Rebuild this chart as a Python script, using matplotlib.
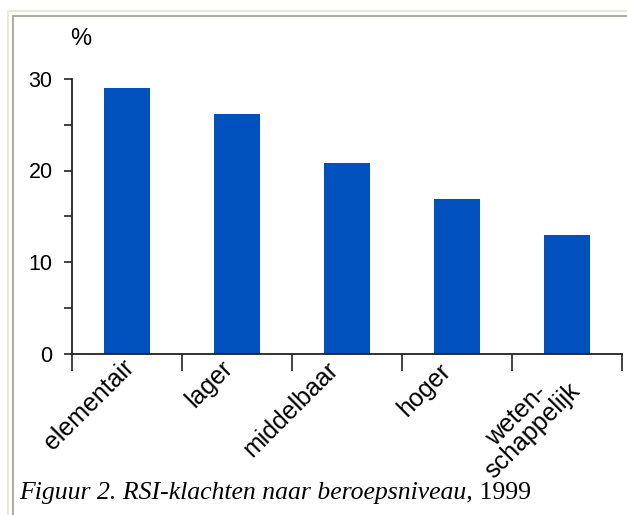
import matplotlib
matplotlib.use("Agg")
import matplotlib.pyplot as plt
import matplotlib.transforms as mtransforms
from matplotlib.patches import Rectangle

categories = ["elementair", "lager", "middelbaar", "hoger", "weten-\nschappelijk"]
values = [29.0, 26.2, 20.8, 16.9, 13.0]
y_ticks = [0, 10, 20, 30]
y_minor = [5, 15, 25]
caption = "Figuur 2. RSI-klachten naar beroepsniveau,"
caption_year = " 1999"

# where each rotated label's top-right corner sits (category units / axes units)
label_x = [0.45, 1.35, 2.31, 3.33, 4.36]
label_y = [-0.005, -0.01, -0.015, -0.02, -0.035]

W, H = 627, 515
fig = plt.figure(figsize=(W / 100, H / 100), dpi=100)
fig.patch.set_facecolor("white")

# frame lines around the figure
fig.add_artist(Rectangle((8 / W, -0.1), 1.2, 1 - 11 / H + 0.1, transform=fig.transFigure,
                         fill=False, edgecolor="#ece9d6", linewidth=1.5))
fig.add_artist(Rectangle((12.5 / W, -0.1), 1.2, 1 - 15.5 / H + 0.1, transform=fig.transFigure,
                         fill=False, edgecolor="#a09c94", linewidth=1.2))

ax = fig.add_axes([72 / W, 1 - 353.5 / H, 550 / W, 274.5 / H])
x = [i + 0.5 for i in range(len(values))]
ax.bar(x, values, width=0.41, color="#0051bd")

ax.set_xlim(0, len(values))
ax.set_ylim(0, 30)
for s in ["top", "right"]:
    ax.spines[s].set_visible(False)
for s in ["left", "bottom"]:
    ax.spines[s].set_linewidth(1.3)
    ax.spines[s].set_color("#222222")

ax.set_yticks(y_ticks)
ax.set_yticks(y_minor, minor=True)
ax.set_yticklabels([str(t) for t in y_ticks], fontsize=15.5, family="Liberation Sans")
ax.tick_params(axis="y", which="both", direction="out", length=6, width=1.2,
               color="#222222", pad=8)
ax.set_xticks(range(len(values) + 1))
ax.set_xticklabels([])
ax.tick_params(axis="x", direction="out", length=12, width=1.2, color="#222222")

tr = mtransforms.blended_transform_factory(ax.transData, ax.transAxes)
for lx, ly, lab in zip(label_x, label_y, categories):
    ax.text(lx, ly, lab, transform=tr, rotation=45, rotation_mode="anchor",
            ha="right", va="top", multialignment="center",
            fontsize=18, family="Liberation Sans", linespacing=0.9)

fig.text(70 / W, 1 - 45 / H, "%", fontsize=17, family="Liberation Sans", va="baseline")

t = fig.text(19 / W, 1 - 499 / H, caption, fontsize=18.5, family="Liberation Serif",
             style="italic", va="baseline")
fig.canvas.draw()
bb = t.get_window_extent()
fig.text(bb.x1 / W, 1 - 499 / H, caption_year, fontsize=18.5, family="Liberation Serif",
         va="baseline")

fig.savefig("out.png", dpi=100)
